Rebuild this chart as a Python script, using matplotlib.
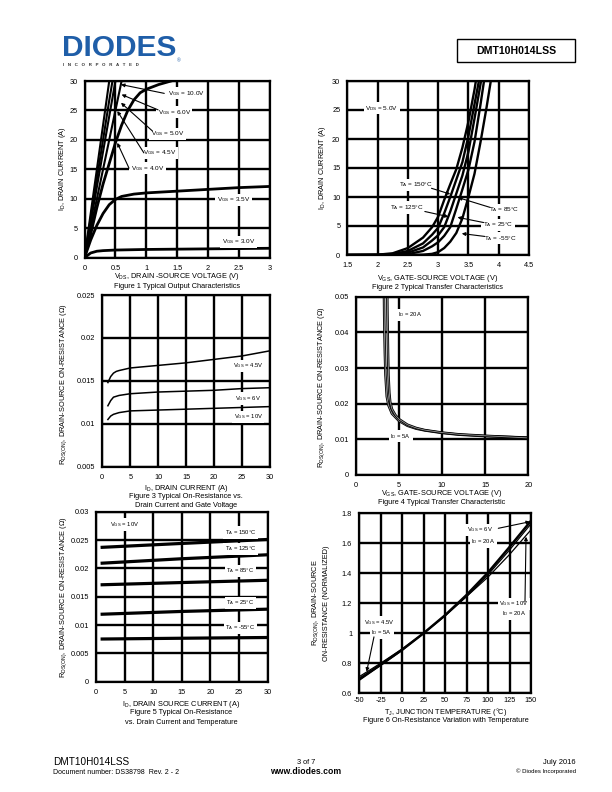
import matplotlib
matplotlib.use("Agg")
from matplotlib import pyplot as plt
from matplotlib.patches import Rectangle

plt.rcParams['font.family'] = ['Liberation Sans', 'DejaVu Sans']
plt.rcParams['mathtext.fontset'] = 'custom'
plt.rcParams['mathtext.rm'] = 'Liberation Sans'

W, H = 612, 792

# ---- Figure 1: output characteristics ----
vds_steep = [0, 0.1, 0.2, 0.3, 0.4, 0.5, 0.6, 0.7]
id_10v = [0, 7.5, 15, 22.5, 30, 37, 44, 51]
id_6v = [0, 6.7, 13.4, 20, 26.7, 33, 40, 46]
id_5v = [0, 6.0, 12.0, 18.0, 24.0, 30, 36, 42]
id_45v = [0, 5.0, 10.0, 15.0, 20.0, 25, 30, 35]
vds_4v = [0, 0.1, 0.2, 0.3, 0.4, 0.5, 0.6, 0.7, 0.8, 0.9, 1.0, 1.2, 1.4]
id_4v = [0, 4, 8.5, 12.5, 16, 19.5, 22.5, 25, 26.8, 28, 28.6, 29.4, 30]
vds_low = [0, 0.1, 0.2, 0.3, 0.4, 0.5, 0.6, 0.8, 1.0, 1.5, 2.0, 2.5, 3.0]
id_35v = [0, 3, 5.5, 7.5, 9, 9.9, 10.4, 10.8, 11.0, 11.3, 11.6, 11.9, 12.1]
id_3v = [0, 0.8, 1.1, 1.2, 1.25, 1.3, 1.32, 1.36, 1.4, 1.45, 1.5, 1.55, 1.6]
fig1_labels = ['10.0V', '6.0V', '5.0V', '4.5V', '4.0V']
fig1_label_xy = [(1.64, 27.9), (1.45, 24.7), (1.34, 21.0), (1.21, 17.8), (1.02, 15.2)]
fig1_arrow_from = [(1.29, 27.9), (1.19, 25.1), (1.10, 21.5), (0.96, 17.8), (0.72, 15.2)]
fig1_arrow_to = [(0.59, 29.4), (0.60, 27.7), (0.59, 26.3), (0.53, 24.9), (0.53, 19.5)]

# ---- Figure 2: transfer characteristics ----
vgs_grid = [1.5, 2.0, 2.25, 2.5, 2.75, 2.9, 3.0, 3.1, 3.2, 3.3, 3.4, 3.5, 3.6, 3.7, 3.8, 3.9, 4.0]
id_150 = [0, 0.05, 0.3, 1.2, 3.0, 4.8, 6.6, 9.5, 12.2, 14.8, 18.5, 23, 28.5, 35, 42, 49, 56]
id_125 = [0, 0.02, 0.15, 0.7, 2.0, 3.5, 4.7, 7.2, 10, 13, 16, 20.5, 26, 31.5, 38, 45, 52]
id_85 = [0, 0.01, 0.08, 0.4, 1.3, 2.5, 3.4, 4.8, 7.5, 10.6, 13.7, 17.8, 23.5, 29.5, 36, 43, 50]
id_25 = [0, 0, 0.02, 0.15, 0.7, 1.5, 2.2, 3.3, 4.8, 8, 11.3, 14.7, 19.5, 26, 33, 40, 47]
id_m55 = [0, 0, 0, 0, 0.05, 0.2, 0.5, 1.2, 2.3, 3.8, 6.3, 10, 14, 19.5, 25.5, 32, 39]
fig2_labels = ['150°C', '125°C', '85°C', '25°C', '-55°C']
fig2_label_xy = [(2.63, 12.1), (2.48, 8.2), (4.09, 7.8), (3.99, 5.2), (4.02, 2.9)]
fig2_arrow_from = [(2.89, 11.5), (2.78, 7.5), (3.86, 8.2), (3.75, 5.6), (3.77, 3.2)]
fig2_arrow_to = [(3.20, 10.5), (3.17, 6.6), (3.33, 9.9), (3.32, 6.5), (3.39, 3.7)]

# ---- Figure 3: on-resistance vs drain current and gate voltage ----
id3 = [1, 1.5, 2, 2.5, 3, 5, 10, 15, 20, 25, 30]
r3_45v = [0.0148, 0.0155, 0.0159, 0.0161, 0.0162, 0.0165, 0.0168, 0.0171, 0.0175, 0.0179, 0.0185]
r3_6v = [0.0121, 0.0127, 0.0131, 0.0132, 0.0133, 0.0135, 0.0137, 0.0138, 0.0139, 0.0141, 0.0142]
r3_10v = [0.0105, 0.0109, 0.0111, 0.0112, 0.0113, 0.0115, 0.0116, 0.0117, 0.0118, 0.0119, 0.0120]

# ---- Figure 4: on-resistance vs gate voltage ----
vgs4_5a = [3.28, 3.30, 3.33, 3.38, 3.45, 3.6, 3.8, 4.2, 5, 6, 7, 8, 10, 12, 15, 20]
r4_5a = [0.05, 0.045, 0.04, 0.034, 0.028, 0.022, 0.0195, 0.0172, 0.0152, 0.0138, 0.0130, 0.0125, 0.0118, 0.0113, 0.0109, 0.0105]
vgs4_20a = [3.66, 3.68, 3.71, 3.75, 3.8, 3.9, 4.0, 4.2, 4.6, 5, 6, 7, 8, 10, 12, 15, 20]
r4_20a = [0.05, 0.045, 0.04, 0.034, 0.028, 0.023, 0.0205, 0.0185, 0.0168, 0.0157, 0.0141, 0.0132, 0.0126, 0.0119, 0.0114, 0.0110, 0.0104]

# ---- Figure 5: on-resistance vs drain current and temperature ----
id5 = [0.8, 15, 30]
r5_150 = [0.0237, 0.0244, 0.0251]
r5_125 = [0.0209, 0.0217, 0.0224]
r5_85 = [0.0171, 0.0175, 0.0179]
r5_25 = [0.0119, 0.0124, 0.0128]
r5_m55 = [0.00753, 0.00767, 0.0078]
fig5_labels = ['150°C', '125°C', '85°C', '25°C', '-55°C']
fig5_label_y = [0.02635, 0.02341, 0.01953, 0.01394, 0.00953]

# ---- Figure 6: normalized on-resistance vs temperature ----
tj = [-50, -25, 0, 25, 50, 75, 100, 125, 150]
r6_45v_5a = [0.71, 0.80, 0.895, 1.0, 1.115, 1.245, 1.39, 1.555, 1.73]
r6_6v_20a = [0.695, 0.79, 0.89, 1.0, 1.12, 1.255, 1.405, 1.575, 1.75]
r6_10v_20a = [0.685, 0.785, 0.885, 1.0, 1.12, 1.245, 1.375, 1.525, 1.69]


def sub(main, s):
    return main + r'$_\mathregular{' + s + '}$'


def px(x, y):
    return x / W, 1 - y / H


def make_axes(fig, left, top, right, bottom):
    ax = fig.add_axes([left / W, 1 - bottom / H, (right - left) / W, (bottom - top) / H])
    for sp in ax.spines.values():
        sp.set_linewidth(1.6)
    ax.tick_params(length=0, labelsize=5.3, pad=5)
    ax.grid(True, color='black', linewidth=1.7)
    ax.set_axisbelow(True)
    return ax


def set_ticks(ax, xt, xl, yt, yl):
    ax.set_xticks(xt)
    ax.set_xticklabels(xl)
    ax.set_yticks(yt)
    ax.set_yticklabels(yl)
    ax.set_xlim(xt[0], xt[-1])
    ax.set_ylim(yt[0], yt[-1])


def ftext(fig, x, y, s, size=5.3, **kw):
    fig.text(*px(x, y), s, fontsize=size, ha=kw.pop('ha', 'center'), va=kw.pop('va', 'center'), **kw)


def label(ax, x, y, s, size=4.6):
    ax.text(x, y, s, fontsize=size, ha='center', va='center', zorder=5,
            bbox=dict(facecolor='white', edgecolor='none', pad=1.2))


def arrow(ax, start, tip, lw=0.8):
    ax.annotate('', xy=tip, xytext=start, zorder=6,
                arrowprops=dict(arrowstyle='-|>', color='black', lw=lw, mutation_scale=5,
                                shrinkA=0, shrinkB=0))


fig = plt.figure(figsize=(W / 100, H / 100), dpi=100)

# header
ftext(fig, 62, 48, 'DIODES', size=21.5, ha='left', color='#1f5ea8', fontweight='heavy')
ftext(fig, 63, 65, 'I   N   C   O   R   P   O   R   A   T   E   D', size=3.2, ha='left',
      color='#333333', fontweight='bold')
ftext(fig, 179, 61, '®', size=3.5, color='#1f5ea8')
fig.add_artist(Rectangle(px(457, 62), 118 / W, 23 / H, transform=fig.transFigure,
                         fill=False, edgecolor='black', linewidth=1.0))
ftext(fig, 516, 50.5, 'DMT10H014LSS', size=7.6, fontweight='bold')

# Figure 1
ax1 = make_axes(fig, 84.5, 81, 270, 257.7)
set_ticks(ax1, [0, 0.5, 1, 1.5, 2, 2.5, 3], ['0', '0.5', '1', '1.5', '2', '2.5', '3'],
          [0, 5, 10, 15, 20, 25, 30], ['0', '5', '10', '15', '20', '25', '30'])
for ids in [id_10v, id_6v, id_5v, id_45v]:
    ax1.plot(vds_steep, ids, color='black', lw=1.5)
ax1.plot(vds_4v, id_4v, color='black', lw=2.0)
ax1.plot(vds_low, id_35v, color='black', lw=2.0)
ax1.plot(vds_low, id_3v, color='black', lw=2.0)
for s, xy, a, b in zip(fig1_labels, fig1_label_xy, fig1_arrow_from, fig1_arrow_to):
    label(ax1, xy[0], xy[1], sub('V', 'GS') + ' = ' + s)
    arrow(ax1, a, b)
label(ax1, 2.41, 9.8, sub('V', 'GS') + ' = 3.5V')
label(ax1, 2.49, 2.7, sub('V', 'GS') + ' = 3.0V')
ftext(fig, 62, 169, sub('I', 'D') + ', DRAIN CURRENT (A)', rotation=90)
ftext(fig, 177, 277, sub('V', 'DS') + ', DRAIN -SOURCE VOLTAGE (V)')
ftext(fig, 177, 286.5, 'Figure 1 Typical Output Characteristics')

# Figure 2
ax2 = make_axes(fig, 347.3, 81, 529, 255)
set_ticks(ax2, [1.5, 2, 2.5, 3, 3.5, 4, 4.5], ['1.5', '2', '2.5', '3', '3.5', '4', '4.5'],
          [0, 5, 10, 15, 20, 25, 30], ['0', '5', '10', '15', '20', '25', '30'])
for ids in [id_150, id_125, id_85, id_25, id_m55]:
    ax2.plot(vgs_grid, ids, color='black', lw=1.7)
label(ax2, 2.07, 25.3, sub('V', 'DS') + ' = 5.0V')
for s, xy, a, b in zip(fig2_labels, fig2_label_xy, fig2_arrow_from, fig2_arrow_to):
    label(ax2, xy[0], xy[1], sub('T', 'A') + ' = ' + s)
    arrow(ax2, a, b)
ftext(fig, 323, 168, sub('I', 'D') + ', DRAIN CURRENT (A)', rotation=90)
ftext(fig, 438, 278, sub('V', 'GS') + ', GATE-SOURCE VOLTAGE (V)')
ftext(fig, 438, 287.5, 'Figure 2 Typical Transfer Characteristics')

# Figure 3
ax3 = make_axes(fig, 102.3, 295, 270, 466.7)
set_ticks(ax3, [0, 5, 10, 15, 20, 25, 30], ['0', '5', '10', '15', '20', '25', '30'],
          [0.005, 0.01, 0.015, 0.02, 0.025], ['0.005', '0.01', '0.015', '0.02', '0.025'])
for r in [r3_45v, r3_6v, r3_10v]:
    ax3.plot(id3, r, color='black', lw=1.1)
label(ax3, 26.1, 0.01673, sub('V', 'GS') + ' = 4.5V', size=4.2)
label(ax3, 26.1, 0.01296, sub('V', 'GS') + ' = 6V', size=4.2)
label(ax3, 26.1, 0.01083, sub('V', 'GS') + ' = 10V', size=4.2)
ftext(fig, 64, 384, sub('R', 'DS(ON)') + ', DRAIN-SOURCE ON-RESISTANCE (Ω)', rotation=90)
ftext(fig, 186, 488, sub('I', 'D') + ', DRAIN CURRENT (A)')
ftext(fig, 186, 497, 'Figure 3 Typical On-Resistance vs.')
ftext(fig, 186, 506, 'Drain Current and Gate Voltage')

# Figure 4
ax4 = make_axes(fig, 355.7, 296.7, 528.3, 475)
set_ticks(ax4, [0, 5, 10, 15, 20], ['0', '5', '10', '15', '20'],
          [0, 0.01, 0.02, 0.03, 0.04, 0.05], ['0', '0.01', '0.02', '0.03', '0.04', '0.05'])
for v, r in [(vgs4_5a, r4_5a), (vgs4_20a, r4_20a)]:
    ax4.plot(v, r, color='black', lw=1.8)
    ax4.plot(v, r, color='#9a9a9a', lw=0.6)
label(ax4, 6.3, 0.0449, sub('I', 'D') + ' = 20A', size=4.2)
label(ax4, 5.2, 0.0109, sub('I', 'D') + ' = 5A', size=4.2)
ftext(fig, 322, 387, sub('R', 'DS(ON)') + ', DRAIN-SOURCE ON-RESISTANCE (Ω)', rotation=90)
ftext(fig, 442, 493, sub('V', 'GS') + ', GATE-SOURCE VOLTAGE (V)')
ftext(fig, 442, 502.5, 'Figure 4 Typical Transfer Characteristic')

# Figure 5
ax5 = make_axes(fig, 96, 511.7, 267.7, 681.7)
set_ticks(ax5, [0, 5, 10, 15, 20, 25, 30], ['0', '5', '10', '15', '20', '25', '30'],
          [0, 0.005, 0.01, 0.015, 0.02, 0.025, 0.03],
          ['0', '0.005', '0.01', '0.015', '0.02', '0.025', '0.03'])
for r in [r5_150, r5_125, r5_85, r5_25, r5_m55]:
    ax5.plot(id5, r, color='black', lw=2.3, solid_capstyle='butt')
label(ax5, 5.07, 0.02776, sub('V', 'GS') + ' = 10V', size=4.2)
for s, y in zip(fig5_labels, fig5_label_y):
    label(ax5, 25.2, y, sub('T', 'A') + ' = ' + s, size=4.2)
ftext(fig, 64, 597, sub('R', 'DS(ON)') + ', DRAIN-SOURCE ON-RESISTANCE (Ω)', rotation=90)
ftext(fig, 181, 704, sub('I', 'D') + ', DRAIN SOURCE CURRENT (A)')
ftext(fig, 181, 713, 'Figure 5 Typical On-Resistance')
ftext(fig, 181, 722, 'vs. Drain Current and Temperature')

# Figure 6
ax6 = make_axes(fig, 359, 513.3, 531, 693.3)
ax6.tick_params(axis='x', pad=2.5)
set_ticks(ax6, [-50, -25, 0, 25, 50, 75, 100, 125, 150],
          ['-50', '-25', '0', '25', '50', '75', '100', '125', '150'],
          [0.6, 0.8, 1, 1.2, 1.4, 1.6, 1.8], ['0.6', '0.8', '1', '1.2', '1.4', '1.6', '1.8'])
ax6.plot(tj, r6_45v_5a, color='black', lw=0.9)
ax6.plot(tj, r6_10v_20a, color='black', lw=0.9)
ax6.plot(tj, r6_6v_20a, color='black', lw=1.8)
label(ax6, 90.7, 1.689, sub('V', 'GS') + ' = 6V', size=4.2)
label(ax6, 94.6, 1.611, sub('I', 'D') + ' = 20A', size=4.2)
arrow(ax6, (112, 1.70), (148.8, 1.744))
label(ax6, 130.2, 1.196, sub('V', 'GS') + ' = 10V', size=4.2)
label(ax6, 130.2, 1.129, sub('I', 'D') + ' = 20A', size=4.2)
arrow(ax6, (143, 1.21), (144.2, 1.644))
label(ax6, -26.4, 1.073, sub('V', 'GS') + ' = 4.5V', size=4.2)
label(ax6, -23.6, 1.004, sub('I', 'D') + ' = 5A', size=4.2)
arrow(ax6, (-32.6, 0.976), (-41.1, 0.744))
ftext(fig, 316, 603, sub('R', 'DS(ON)') + ', DRAIN-SOURCE', rotation=90)
ftext(fig, 327, 603, 'ON-RESISTANCE (NORMALIZED)', rotation=90)
ftext(fig, 446, 711.5, sub('T', 'J') + ', JUNCTION TEMPERATURE (°C)')
ftext(fig, 446, 720.5, 'Figure 6 On-Resistance Variation with Temperature')

# footer
ftext(fig, 53, 762, 'DMT10H014LSS', size=7.2, ha='left')
ftext(fig, 53, 772.5, 'Document number: DS38798  Rev. 2 - 2', size=5.0, ha='left')
ftext(fig, 306, 762, '3 of 7', size=5.3)
ftext(fig, 306, 772, 'www.diodes.com', size=6.2, fontweight='bold')
ftext(fig, 576, 762, 'July 2016', size=5.5, ha='right')
ftext(fig, 576, 771.5, '© Diodes Incorporated', size=4.3, ha='right')

fig.savefig('out.png', dpi=100)
